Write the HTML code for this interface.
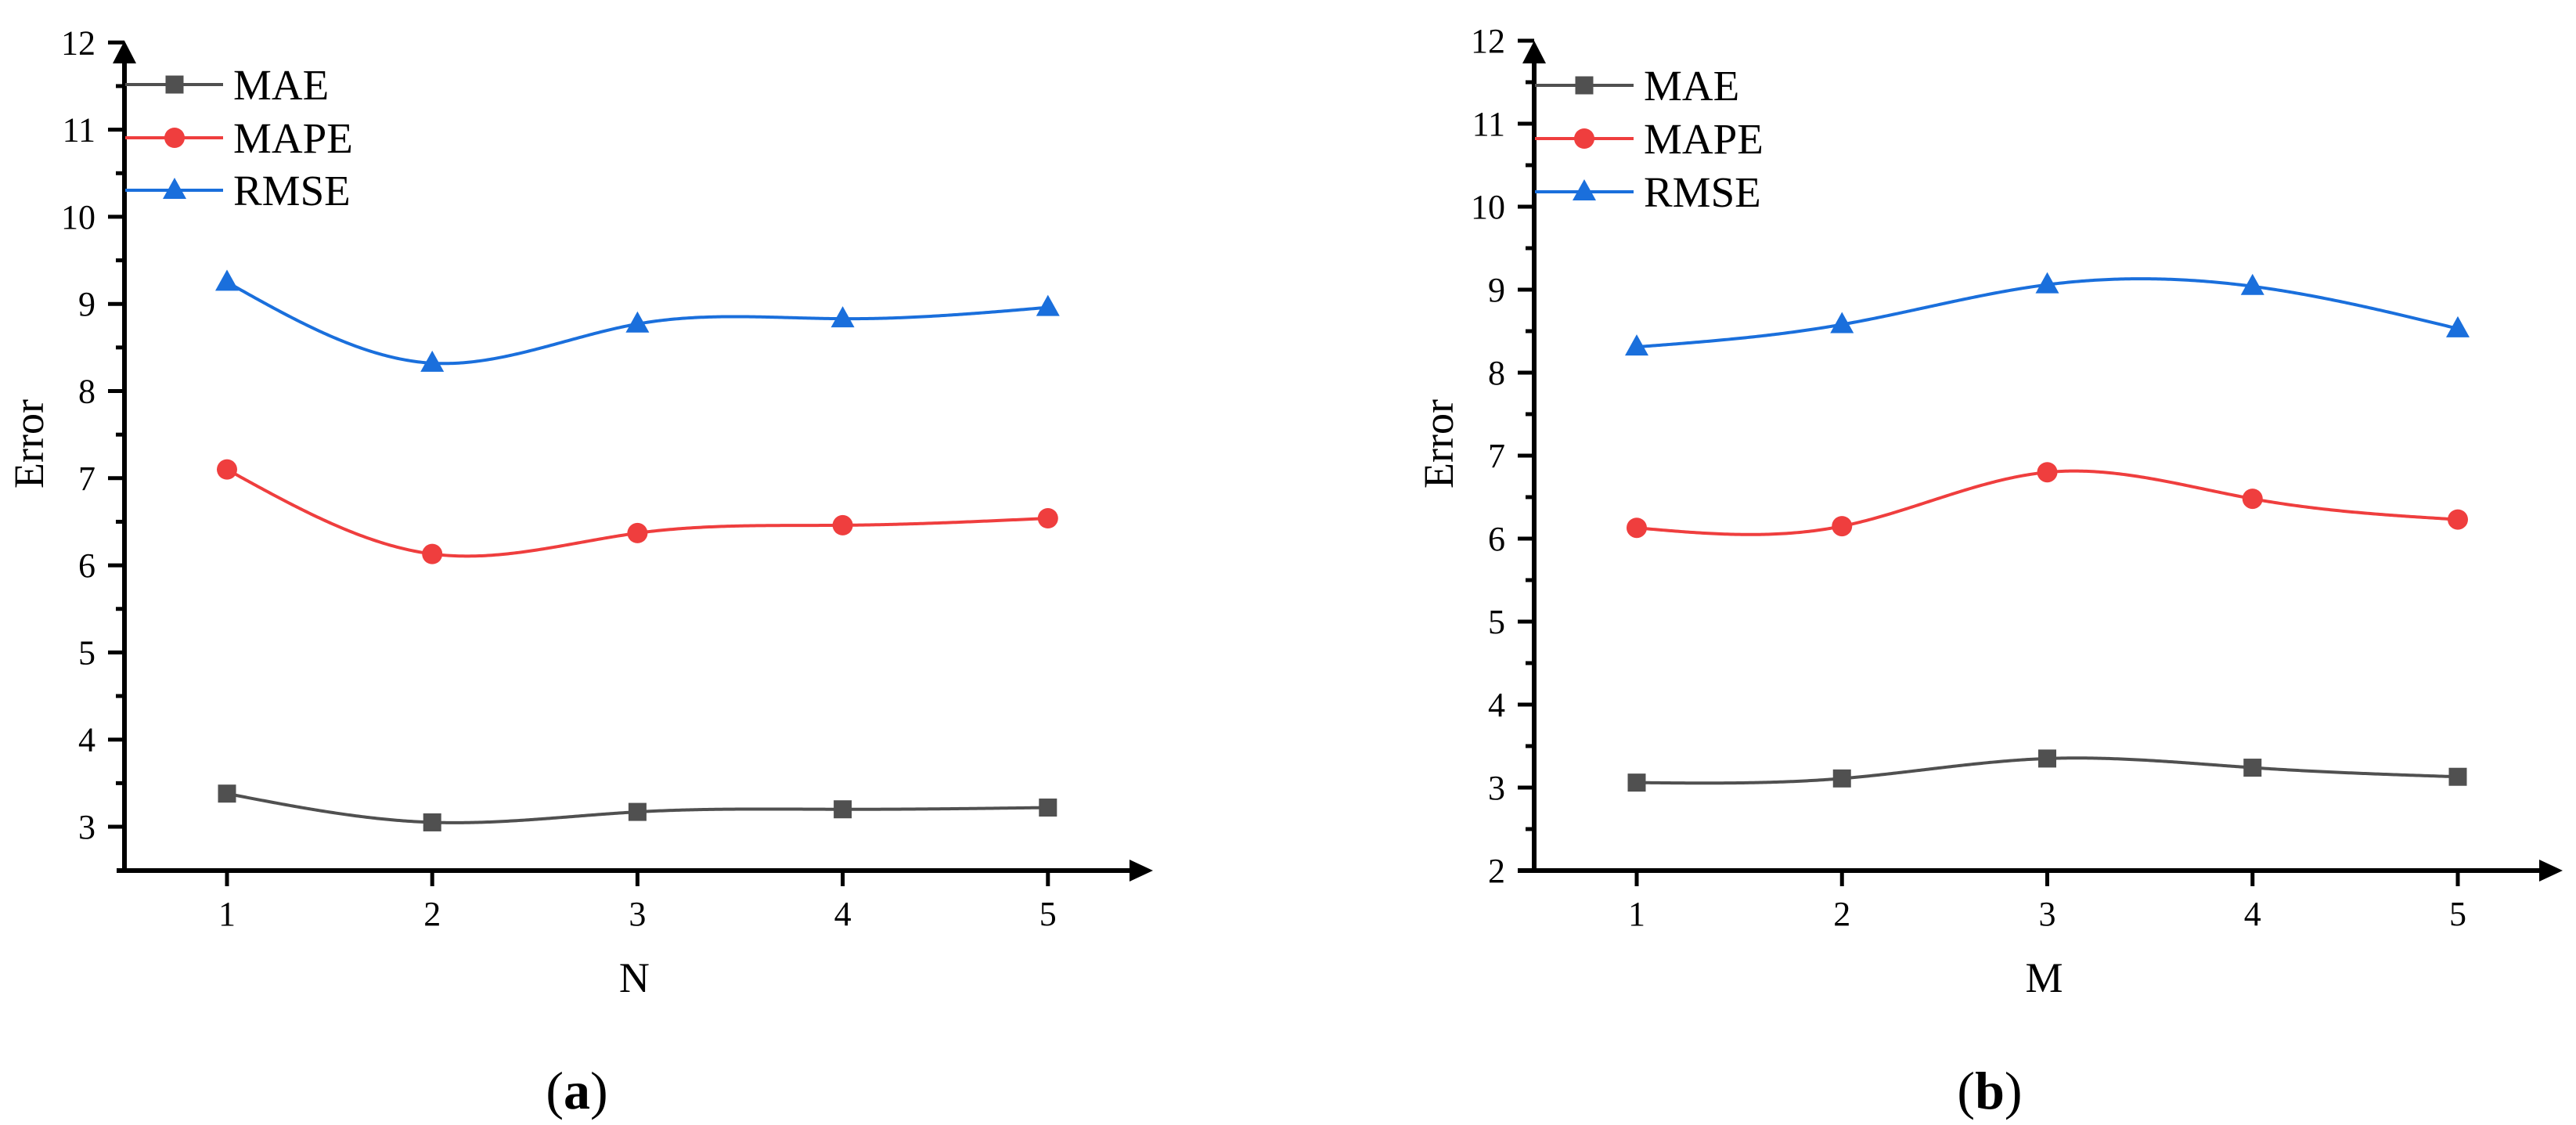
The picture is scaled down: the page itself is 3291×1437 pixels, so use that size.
<!DOCTYPE html>
<html><head><meta charset="utf-8">
<style>
html,body{margin:0;padding:0;background:#fff;}
svg{display:block;font-family:"Liberation Serif",serif;}
svg text{font-family:"Liberation Serif",serif;fill:#000;}
</style></head>
<body>
<svg id="fig" width="3291" height="1437" viewBox="0 0 3291 1437" xmlns="http://www.w3.org/2000/svg" font-family="Liberation Serif, serif"></svg>
<script>
const categories = [1, 2, 3, 4, 5];
const seriesNames = ["MAE", "MAPE", "RMSE"];
const leftMAE = [3.38, 3.05, 3.17, 3.20, 3.22];
const leftMAPE = [7.10, 6.13, 6.37, 6.46, 6.54];
const leftRMSE = [9.25, 8.32, 8.77, 8.83, 8.96];
const rightMAE = [3.06, 3.11, 3.35, 3.24, 3.13];
const rightMAPE = [6.13, 6.15, 6.80, 6.48, 6.23];
const rightRMSE = [8.31, 8.58, 9.06, 9.04, 8.53];
const leftYTicks = [3, 4, 5, 6, 7, 8, 9, 10, 11, 12];
const rightYTicks = [2, 3, 4, 5, 6, 7, 8, 9, 10, 11, 12];

const NS = "http://www.w3.org/2000/svg";
const svg = document.getElementById("fig");
const colors = ["#505050", "#ef3e3e", "#1a6fdc"];
const markers = ["square", "circle", "triangle"];
const FF = "Liberation Serif, serif";

function el(tag, attrs, parent) {
  const e = document.createElementNS(NS, tag);
  for (const k in attrs) e.setAttribute(k, attrs[k]);
  if (tag === "text") e.setAttribute("font-family", FF);
  (parent || svg).appendChild(e);
  return e;
}

function spline(xs, ys) {
  const n = xs.length;
  const h = [], al = [], l = [1], mu = [0], z = [0], c = new Array(n).fill(0), b = [], d = [];
  for (let i = 0; i < n - 1; i++) h.push(xs[i + 1] - xs[i]);
  for (let i = 1; i < n - 1; i++) al[i] = 3 / h[i] * (ys[i + 1] - ys[i]) - 3 / h[i - 1] * (ys[i] - ys[i - 1]);
  for (let i = 1; i < n - 1; i++) {
    l[i] = 2 * (xs[i + 1] - xs[i - 1]) - h[i - 1] * mu[i - 1];
    mu[i] = h[i] / l[i];
    z[i] = (al[i] - h[i - 1] * z[i - 1]) / l[i];
  }
  for (let j = n - 2; j >= 0; j--) {
    c[j] = (j >= 1 ? z[j] - mu[j] * c[j + 1] : 0);
    b[j] = (ys[j + 1] - ys[j]) / h[j] - h[j] * (c[j + 1] + 2 * c[j]) / 3;
    d[j] = (c[j + 1] - c[j]) / (3 * h[j]);
  }
  return function (x) {
    let i = 0;
    for (let k = 0; k < n - 1; k++) if (x >= xs[k] && x <= xs[k + 1]) { i = k; break; }
    const dx = x - xs[i];
    return ys[i] + b[i] * dx + c[i] * dx * dx + d[i] * dx * dx * dx;
  };
}

function drawMarker(g, type, x, y, color) {
  let m;
  if (type === "square") m = el("rect", {x: x - 11.5, y: y - 11.5, width: 23, height: 23, fill: color}, g);
  else if (type === "circle") m = el("circle", {cx: x, cy: y, r: 13, fill: color}, g);
  else m = el("polygon", {points: `${x},${y - 16} ${x - 15},${y + 11} ${x + 15},${y + 11}`, fill: color}, g);
  return m;
}

function drawChart(cfg) {
  const g = el("g", {});
  
  
  const xs = v => cfg.x1 + (v - 1) * cfg.dx;
  const ys = v => cfg.y3 - (v - cfg.yref) * cfg.unit;
  const yAxis = el("line", {x1: cfg.ax, y1: 78, x2: cfg.ax, y2: cfg.axY + 3, stroke: "#000", "stroke-width": 6}, g);
  
  
  const yArrow = el("polygon", {points: `${cfg.ax},52 ${cfg.ax - 15},81 ${cfg.ax + 15},81`, fill: "#000"}, g);
  
  
  const xAxis = el("line", {x1: cfg.xStart, y1: cfg.axY, x2: cfg.arrowBase + 2, y2: cfg.axY, stroke: "#000", "stroke-width": 6}, g);
  
  
  const xArrow = el("polygon", {points: `${cfg.arrowBase},${cfg.axY - 14} ${cfg.arrowBase + 30},${cfg.axY} ${cfg.arrowBase},${cfg.axY + 14}`, fill: "#000"}, g);
  
  
  cfg.yTicks.forEach((v, i) => {
    const y = ys(v);
    el("line", {x1: cfg.ax - 21, y1: y, x2: cfg.ax, y2: y, stroke: "#000", "stroke-width": 5}, g);
    const t = el("text", {x: cfg.ax - 37, y: y + 15, "font-size": 44, "text-anchor": "end"}, g);
    t.textContent = v;
    
    
    if (i < cfg.yTicks.length - 1) {
      const ym = ys(v + 0.5);
      el("line", {x1: cfg.ax - 11, y1: ym, x2: cfg.ax, y2: ym, stroke: "#000", "stroke-width": 5}, g);
    }
  });
  categories.forEach(c => {
    const x = xs(c);
    el("line", {x1: x, y1: cfg.axY, x2: x, y2: cfg.axY + 20, stroke: "#000", "stroke-width": 5}, g);
    const t = el("text", {x: x, y: cfg.axY + 70, "font-size": 44, "text-anchor": "middle"}, g);
    t.textContent = c;
    
    
  });
  const yt = el("text", {x: 0, y: 0, "font-size": 54, "text-anchor": "middle", transform: `translate(${cfg.ax - 104},${567}) rotate(-90)`}, g);
  yt.textContent = "Error";
  
  
  const xt = el("text", {x: (xs(1) + xs(5)) / 2 - 4, y: 1267, "font-size": 54, "text-anchor": "middle"}, g);
  xt.textContent = cfg.xTitle;
  
  
  const cap = el("text", {x: cfg.capX, y: 1416, "font-size": 68, "text-anchor": "middle"}, g);
  cap.innerHTML = `(<tspan font-weight="bold">${cfg.cap}</tspan>)`;
  
  
  cfg.series.forEach((vals, si) => {
    const sg = el("g", {}, g);
    
    
    const f = spline(categories, vals);
    let d = "";
    for (let k = 0; k <= 400; k++) {
      const xv = 1 + 4 * k / 400;
      d += (k ? "L" : "M") + xs(xv).toFixed(2) + "," + ys(f(xv)).toFixed(2);
    }
    const p = el("path", {d: d, fill: "none", stroke: colors[si], "stroke-width": 4}, sg);
    
    
    vals.forEach((v, i) => {
      const m = drawMarker(sg, markers[si], xs(categories[i]), ys(v), colors[si]);
      
      
    });
  });
  const lg = el("g", {}, g);
  
  
  seriesNames.forEach((nm, si) => {
    const ly = cfg.legY[si];
    const eg = el("g", {}, lg);
    
    
    el("line", {x1: cfg.ax + 1, y1: ly, x2: cfg.legEnd, y2: ly, stroke: colors[si], "stroke-width": 4}, eg);
    drawMarker(eg, markers[si], cfg.legMark, ly, colors[si]);
    const t = el("text", {x: cfg.legText, y: ly + 19, "font-size": 55}, eg);
    t.textContent = nm;
  });
}

drawChart({name: "chart-a", ax: 159, axY: 1112, xStart: 149, arrowBase: 1443, x1: 290, dx: 262.2,
  y3: 1056, yref: 3, unit: 111.3, yTicks: leftYTicks, xTitle: "N", cap: "a", capX: 737,
  series: [leftMAE, leftMAPE, leftRMSE], legY: [108, 176, 243], legEnd: 285, legMark: 223, legText: 298});
drawChart({name: "chart-b", ax: 1960, axY: 1112, xStart: 1939, arrowBase: 3244, x1: 2091, dx: 262.25,
  y3: 1112, yref: 2, unit: 106, yTicks: rightYTicks, xTitle: "M", cap: "b", capX: 2542,
  series: [rightMAE, rightMAPE, rightRMSE], legY: [109, 177, 245], legEnd: 2087, legMark: 2024, legText: 2100});
</script>
</body></html>
